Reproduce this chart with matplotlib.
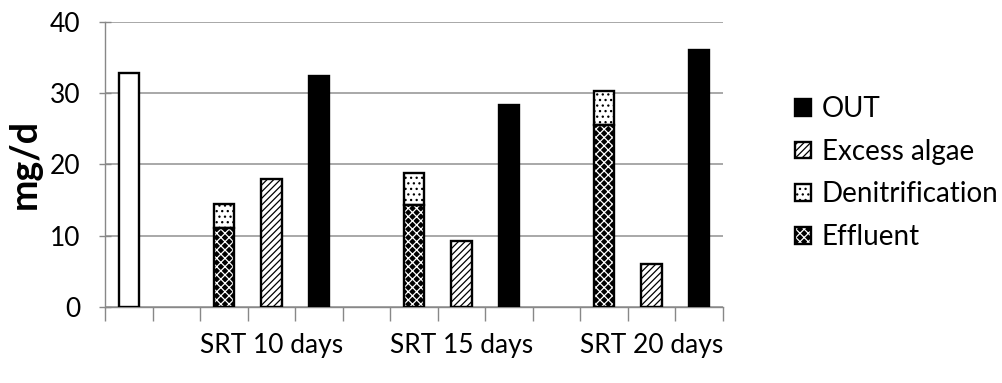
import numpy as np
import matplotlib
matplotlib.use("Agg")
import matplotlib.pyplot as plt

plt.rcParams["font.family"] = ["Lato", "DejaVu Sans"]
plt.rcParams["hatch.linewidth"] = 0.9

# =========================
# Nitrogen balance (mg/d)
# =========================

# 13 slots on the category axis, only the middle slot of each SRT group is named
slot_labels = ["", "", "", "SRT 10 days", "", "", "", "SRT 15 days",
               "", "", "", "SRT 20 days", ""]

influent = 32.8
effluent = [11.1, 14.3, 25.6]
denitrification = [3.3, 4.5, 4.7]
excess_algae = [18.0, 9.3, 6.0]
out_total = [32.4, 28.3, 36.1]

# slot index of the first bar in each SRT group
group_start = np.array([2, 6, 10])

BAR_W = 0.43
EDGE_W = 1.7
TICK_SIZE = 19
LEGEND_SIZE = 20


fig = plt.figure(figsize=(10.03, 3.83), dpi=100)
ax = fig.add_axes([0.1047, 0.1984, 0.616, 0.7442])

stack_x = group_start
algae_x = group_start + 1
out_x = group_start + 2

# influent (no legend entry)
ax.bar([0], [influent], width=BAR_W, facecolor="white", edgecolor="black",
       linewidth=EDGE_W, zorder=3)

# effluent: black with white cross pattern, then a black outline on top
eff_fill = ax.bar(stack_x, effluent, width=BAR_W, facecolor="black",
                  edgecolor="white", hatch="xxxx", linewidth=0, zorder=3)
eff_edge = ax.bar(stack_x, effluent, width=BAR_W, fill=False,
                  edgecolor="black", linewidth=EDGE_W, zorder=4)

den = ax.bar(stack_x, denitrification, bottom=effluent, width=BAR_W,
             facecolor="white", edgecolor="black", hatch="...",
             linewidth=EDGE_W, zorder=3)

alg = ax.bar(algae_x, excess_algae, width=BAR_W, facecolor="white",
             edgecolor="black", hatch="/////", linewidth=EDGE_W, zorder=3)

out = ax.bar(out_x, out_total, width=BAR_W, facecolor="black",
             edgecolor="black", linewidth=EDGE_W, zorder=3)

# axes styling
ax.set_xlim(-0.5, len(slot_labels) - 0.5)
ax.set_ylim(0, 40)
ax.set_yticks([0, 10, 20, 30, 40])
ax.yaxis.grid(True, color="#999999", linewidth=1.2, zorder=0)
ax.set_axisbelow(True)

ax.set_xticks(np.arange(len(slot_labels)))
ax.set_xticklabels(slot_labels)
ax.set_xticks(np.arange(-0.5, len(slot_labels), 1), minor=True)
ax.tick_params(axis="x", which="major", length=0, pad=19, labelsize=TICK_SIZE)
ax.tick_params(axis="x", which="minor", length=10, width=1.0,
               color="#888888", direction="out")
ax.tick_params(axis="y", length=9, width=1.0, color="#888888",
               direction="inout", pad=13, labelsize=TICK_SIZE)

for side in ["top", "right"]:
    ax.spines[side].set_visible(False)
for side in ["left", "bottom"]:
    ax.spines[side].set_color("#888888")
    ax.spines[side].set_linewidth(1.0)

ax.set_ylabel("mg/d", fontsize=27, fontweight="bold", labelpad=6)

handles = [out, alg, den, (eff_fill, eff_edge)]
labels = ["OUT", "Excess algae", "Denitrification", "Effluent"]
fig.legend(handles, labels, loc="center left", bbox_to_anchor=(0.793, 0.548),
           frameon=False, fontsize=LEGEND_SIZE, handlelength=0.55,
           handleheight=0.55, handletextpad=0.4, labelspacing=0.6,
           borderpad=0, borderaxespad=0)

fig.savefig("out.png", dpi=100)
